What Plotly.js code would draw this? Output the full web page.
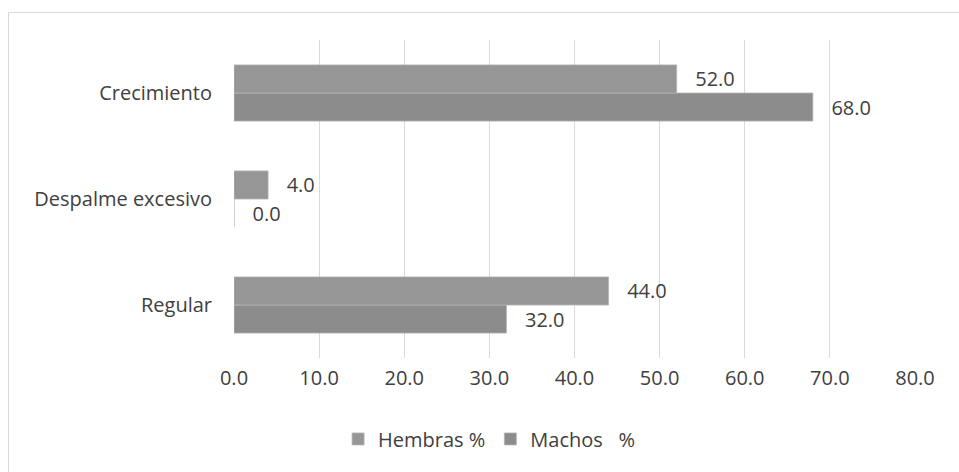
<!DOCTYPE html>
<html>
<head>
<meta charset="utf-8">
<script src="https://cdn.plot.ly/plotly-3.0.1.min.js"></script>
<style>
html,body{margin:0;padding:0;background:#fff;}
#wrap{position:relative;width:959px;height:472px;overflow:hidden;}
#chart{width:959px;height:472px;}
#frame{position:absolute;left:8px;top:12px;width:1000px;height:520px;border:1px solid #d9d9d9;pointer-events:none;box-sizing:border-box;}
</style>
</head>
<body>
<div id="wrap"><div id="chart"></div><div id="frame"></div></div>
<script>
// Categories listed bottom to top
const categories = ["Regular", "Despalme excesivo", "Crecimiento"];
const hembras = [44.0, 4.0, 52.0];
const machos = [32.0, 0.0, 68.0];
const seriesNames = ["Hembras %", "Machos\u00a0\u00a0\u00a0%"];
const xTicks = [0, 10, 20, 30, 40, 50, 60, 70, 80];

const font = "Open Sans, Liberation Sans, sans-serif";
const txtColor = "#404040";
const fs = 20;

const common = {
  type: "bar",
  orientation: "h",
  y: categories,
  textposition: "outside",
  texttemplate: "\u00a0\u00a0\u00a0%{x:.1f}",
  textfont: {family: font, size: fs, color: txtColor},
  cliponaxis: false,
  hoverinfo: "x+y"
};

const traces = [
  Object.assign({}, common, {
    name: seriesNames[1], x: machos, legendrank: 2,
    marker: {color: "#8c8c8c", line: {color: "#b4b4b4", width: 0.8}}
  }),
  Object.assign({}, common, {
    name: seriesNames[0], x: hembras, legendrank: 1,
    marker: {color: "#969696", line: {color: "#b4b4b4", width: 0.8}}
  })
];

const layout = {
  width: 959, height: 472,
  margin: {l: 234, r: 44, t: 40, b: 114},
  paper_bgcolor: "#ffffff",
  plot_bgcolor: "#ffffff",
  barmode: "group",
  bargap: 0.47,
  bargroupgap: 0,
  font: {family: font, size: fs, color: txtColor},
  xaxis: {
    range: [0, 80],
    tickvals: xTicks,
    ticktext: xTicks.map(v => v.toFixed(1)),
    showgrid: true, gridcolor: "#d9d9d9", gridwidth: 1,
    zeroline: false, showline: false,
    ticks: "", ticklabelstandoff: 6,
    tickfont: {family: font, size: fs, color: txtColor}
  },
  yaxis: {
    type: "category",
    categoryorder: "array", categoryarray: categories,
    showgrid: false, zeroline: false, showline: false,
    ticks: "", ticklabelstandoff: 21,
    tickfont: {family: font, size: fs, color: txtColor}
  },
  showlegend: true,
  legend: {
    orientation: "h",
    xref: "container", yref: "container",
    x: 0.51, xanchor: "center",
    y: 0.07, yanchor: "middle",
    font: {family: font, size: fs, color: txtColor},
    itemwidth: 30
  }
};

Plotly.newPlot("chart", traces, layout, {displayModeBar: false, staticPlot: true});
</script>
</body>
</html>
